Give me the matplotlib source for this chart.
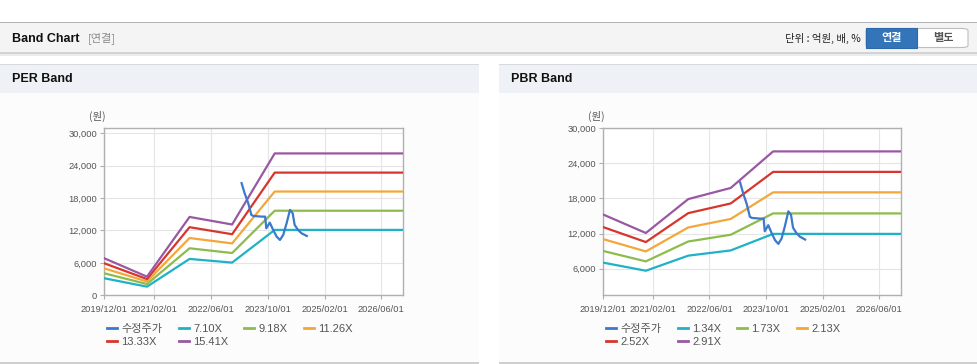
import matplotlib
matplotlib.use('Agg')
import matplotlib.pyplot as plt
import matplotlib.dates as mdates
from matplotlib.patches import Rectangle, FancyBboxPatch
from matplotlib.ticker import FuncFormatter
import pandas as pd

plt.rcParams['font.family'] = ['Liberation Sans', 'Noto Sans CJK KR']

# band breakpoints (monthly data)
band_dates = ['2019-12-01', '2020-12-01', '2021-12-01', '2022-12-01',
              '2023-12-01', '2026-12-05']

per_labels = ['7.10X', '9.18X', '11.26X', '13.33X', '15.41X']
per_710 = [3150, 1600, 6730, 6050, 12100, 12100]
per_918 = [4070, 2080, 8700, 7820, 15650, 15650]
per_1126 = [4980, 2550, 10600, 9600, 19200, 19200]
per_1333 = [5920, 3000, 12600, 11300, 22700, 22700]
per_1541 = [6850, 3450, 14500, 13100, 26250, 26250]

pbr_labels = ['1.34X', '1.73X', '2.13X', '2.52X', '2.91X']
pbr_134 = [7030, 5650, 8230, 9120, 11950, 11950]
pbr_173 = [9020, 7250, 10650, 11800, 15450, 15450]
pbr_213 = [11050, 8950, 13050, 14500, 19050, 19050]
pbr_252 = [13100, 10550, 15500, 17150, 22550, 22550]
pbr_291 = [15250, 12100, 17900, 19800, 26050, 26050]

# adjusted price (수정주가)
price_dates = ['2023-02-20', '2023-03-18', '2023-04-18', '2023-05-15', '2023-06-01',
               '2023-08-10', '2023-09-10', '2023-09-20', '2023-10-20', '2023-11-18',
               '2023-12-18', '2024-01-15', '2024-02-12', '2024-03-12', '2024-04-10',
               '2024-05-03', '2024-05-20', '2024-06-18', '2024-07-18', '2024-09-01']
price = [20750, 18900, 17050, 14870, 14680, 14560, 14560, 12400, 13440, 12090,
         10850, 10240, 11170, 13330, 15800, 15190, 13020, 12090, 11480, 10980]

x_ticks = ['2019-12-01', '2021-02-01', '2022-06-01', '2023-10-01', '2025-02-01', '2026-06-01']

line_colors = ['#1fb2c6', '#8dbb4c', '#f3a73a', '#d6362b', '#9a58a3']
price_color = '#3a79cc'

W, H = 978, 364
fig = plt.figure(figsize=(W / 100, H / 100), dpi=100)
fig.patch.set_facecolor('white')


def px_rect(x0, y0, x1, y1, **kw):
    fig.patches.append(Rectangle((x0 / W, 1 - y1 / H), (x1 - x0) / W, (y1 - y0) / H,
                                 transform=fig.transFigure, zorder=-5, **kw))


# top header bar
px_rect(0, 21.5, W, 23, facecolor='#b3b3b3', edgecolor='none')
px_rect(0, 23, W, 52, facecolor='#f4f4f4', edgecolor='none')
px_rect(0, 52, W, 54, facecolor='#d3d3d3', edgecolor='none')
px_rect(0, 54, W, 56, facecolor='#ececec', edgecolor='none')
fig.text(12 / W, 1 - 38.5 / H, 'Band Chart', fontsize=9, fontweight='bold',
         va='center', color='#111111')
fig.text(88 / W, 1 - 38.5 / H, '[연결]', fontsize=8, family=['Noto Sans CJK KR'],
         va='center', color='#8a8a8a')
fig.text(861 / W, 1 - 38.5 / H, '단위 : 억원, 배, %', fontsize=7.5,
         family=['Noto Sans CJK KR'], va='center', ha='right', color='#222222')
fig.patches.append(FancyBboxPatch((866 / W, 1 - 47.5 / H), 102 / W, 19 / H,
                                  boxstyle='round,pad=0,rounding_size=0.006',
                                  transform=fig.transFigure, facecolor='white',
                                  edgecolor='#bdbdbd', lw=0.8, zorder=-4))
px_rect(866, 28.5, 917.5, 47.5, facecolor='#3474b8', edgecolor='#2d68a8', lw=0.8)
fig.patches[-1].set_zorder(-3)
fig.text(891.5 / W, 1 - 38 / H, '연결', fontsize=8, fontweight='bold',
         family=['Noto Sans CJK KR'], va='center', ha='center', color='white')
fig.text(943 / W, 1 - 38 / H, '별도', fontsize=8, fontweight='bold',
         family=['Noto Sans CJK KR'], va='center', ha='center', color='#555555')

# panels
for (x0, x1, title) in [(0, 479, 'PER Band'), (499, W, 'PBR Band')]:
    px_rect(x0, 63.5, x1, 65, facecolor='#d6d9dd', edgecolor='none')
    px_rect(x0, 65, x1, 93, facecolor='#eef2f6', edgecolor='none')
    px_rect(x0, 93, x1, 362, facecolor='#fcfcfc', edgecolor='none')
    px_rect(x0, 362, x1, 364, facecolor='#cfcfcf', edgecolor='none')
    fig.text((x0 + 12) / W, 1 - 79.5 / H, title, fontsize=9, fontweight='bold',
             va='center', color='#111111')

bd = pd.to_datetime(band_dates)
pd_dates = pd.to_datetime(price_dates)
xt = pd.to_datetime(x_ticks)


def draw_panel(left_px, right_px, bands, labels, ylim, yticks, legend_x):
    ax = fig.add_axes([left_px / W, 1 - 295.3 / H, (right_px - left_px) / W, (295.3 - 128.3) / H])
    ax.set_facecolor('white')
    handles = []
    h, = ax.plot(pd_dates, price, color=price_color, lw=1.6, zorder=5)
    handles.append(h)
    for vals, c in zip(bands, line_colors):
        h, = ax.plot(bd, vals, color=c, lw=1.6, zorder=3)
        handles.append(h)
    ax.set_xlim(pd.Timestamp('2019-12-01'), pd.Timestamp('2026-12-05'))
    ax.set_ylim(*ylim)
    ax.set_xticks(xt)
    ax.xaxis.set_major_formatter(mdates.DateFormatter('%Y/%m/%d'))
    ax.set_yticks(yticks)
    ax.yaxis.set_major_formatter(FuncFormatter(lambda v, p: '{:,.0f}'.format(v)))
    ax.grid(True, color='#e5e5e5', lw=0.8)
    ax.set_axisbelow(True)
    for s in ax.spines.values():
        s.set_color('#b0b0b0')
        s.set_linewidth(1.0)
    ax.tick_params(axis='both', labelsize=6.7, colors='#b0b0b0', labelcolor='#555555',
                   length=3, width=0.8, pad=2)
    ax.tick_params(axis='x', pad=4)
    ax.text(-0.025, 1.07, '(원)', transform=ax.transAxes, fontsize=7.5,
            family=['Noto Sans CJK KR'], ha='center', va='center', color='#555555')
    all_labels = ['수정주가'] + labels
    order = [0, 4, 1, 5, 2, 3]
    leg = fig.legend([handles[i] for i in order], [all_labels[i] for i in order],
                     loc='upper left', bbox_to_anchor=(legend_x / W, 1 - 324 / H),
                     ncol=4, frameon=False, handlelength=0.9,
                     handletextpad=0.4, columnspacing=1.45, labelspacing=0.3,
                     borderpad=0, borderaxespad=0, labelcolor='#555555',
                     prop={'family': ['Liberation Sans', 'Noto Sans CJK KR'], 'size': 8})
    for lh in leg.get_lines():
        lh.set_linewidth(2)
    return ax


draw_panel(104.3, 403, [per_710, per_918, per_1126, per_1333, per_1541], per_labels,
           (0, 30900), [0, 6000, 12000, 18000, 24000, 30000], 107)
draw_panel(603.3, 901, [pbr_134, pbr_173, pbr_213, pbr_252, pbr_291], pbr_labels,
           (1450, 30000), [6000, 12000, 18000, 24000, 30000], 606)

fig.savefig('out.png', dpi=100)
